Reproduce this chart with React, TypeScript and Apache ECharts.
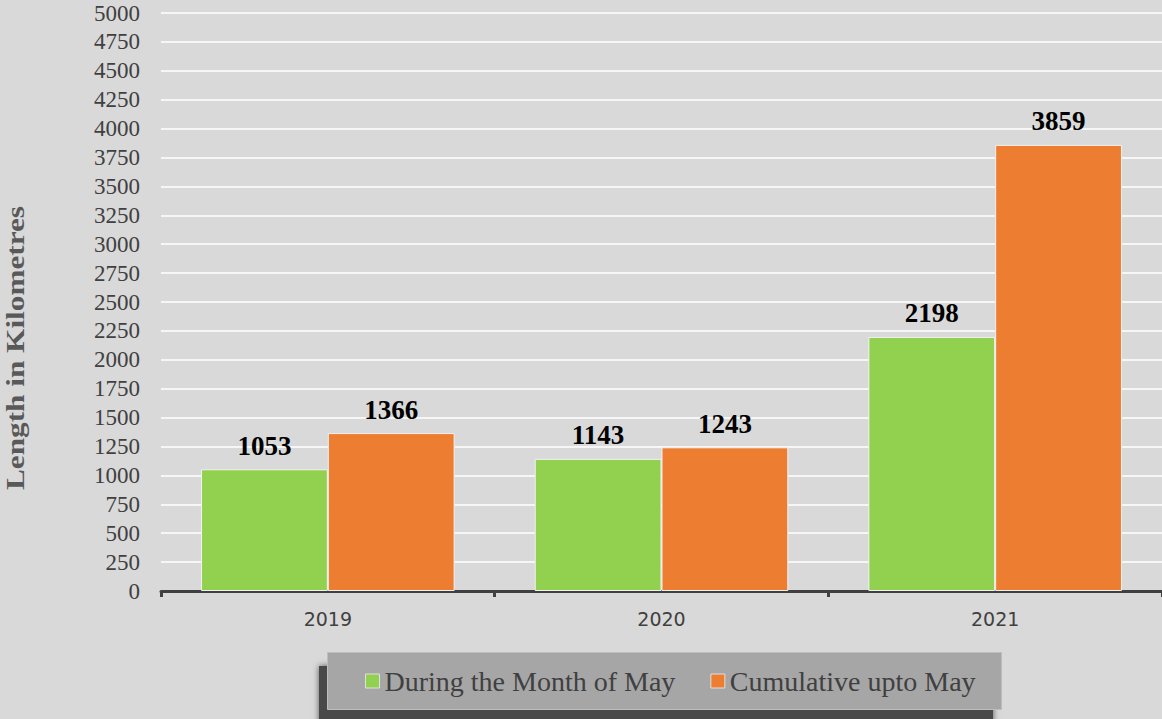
import React, { useEffect, useRef } from "react";
import * as echarts from "echarts";

const categories = ["2019", "2020", "2021"];
const duringMay = [1053, 1143, 2198];
const cumulativeMay = [1366, 1243, 3859];
const seriesNames = ["During the Month of May", "Cumulative upto May"];

export default function App() {
  const ref = useRef<HTMLDivElement>(null);
  useEffect(() => {
    if (!ref.current) return;
    const chart = echarts.init(ref.current, null, { renderer: "svg" });
    const labelStyle = {
      show: true,
      position: "top",
      distance: 10,
      fontFamily: "'Liberation Serif', serif",
      fontWeight: "bold",
      fontSize: 27,
      color: "#000",
    };
    chart.setOption({
      animation: false,
      backgroundColor: "#d9d9d9",
      grid: { left: 161, right: 0, top: 13, bottom: 128, containLabel: false },
      graphic: [
        {
          type: "rect",
          left: 319,
          top: 666,
          shape: { width: 674, height: 60 },
          style: { fill: "#4a4a4a", shadowBlur: 6, shadowColor: "rgba(0,0,0,0.6)" },
          z: 1,
        },
        {
          type: "rect",
          left: 327,
          top: 652,
          shape: { width: 674, height: 57 },
          style: { fill: "#a6a6a6", stroke: "#bdbdbd", lineWidth: 1 },
          z: 2,
        },
        {
          type: "text",
          x: 16,
          y: 348,
          rotation: Math.PI / 2,
          scaleX: 1.25,
          style: {
            text: "Length in Kilometres",
            fontFamily: "'Liberation Serif', serif",
            fontWeight: "bold",
            fontSize: 25,
            fill: "#595959",
            align: "center",
            verticalAlign: "middle",
          },
          z: 3,
        },
      ],
      legend: {
        data: seriesNames,
        left: 360,
        top: 662,
        itemWidth: 14,
        itemHeight: 14,
        itemGap: 35,
        icon: "rect",
        z: 10,
        textStyle: {
          fontFamily: "'Liberation Serif', serif",
          fontSize: 28,
          color: "#404040",
        },
        itemStyle: { borderColor: "#e0e0e0", borderWidth: 1 },
      },
      xAxis: {
        type: "category",
        data: categories,
        axisLine: { lineStyle: { color: "#404040", width: 3 } },
        axisTick: { show: true, length: 6, lineStyle: { color: "#404040", width: 3 } },
        axisLabel: {
          fontFamily: "DejaVu Sans",
          fontSize: 19,
          color: "#404040",
          margin: 18,
        },
      },
      yAxis: {
        type: "value",
        min: 0,
        max: 5000,
        interval: 250,
        axisLine: { show: false },
        axisTick: { show: false },
        axisLabel: {
          fontFamily: "'Liberation Serif', serif",
          fontSize: 23,
          color: "#404040",
          margin: 21,
          formatter: (v: number) => String(v),
        },
        splitLine: { lineStyle: { color: "#ffffff", width: 1.5 } },
      },
      series: [
        {
          name: seriesNames[0],
          type: "bar",
          data: duringMay,
          barGap: "0%",
          barCategoryGap: "24%",
          itemStyle: { color: "#92d050", borderColor: "#f2f2f2", borderWidth: 1 },
          label: labelStyle,
        },
        {
          name: seriesNames[1],
          type: "bar",
          data: cumulativeMay,
          itemStyle: { color: "#ed7d31", borderColor: "#f2f2f2", borderWidth: 1 },
          label: labelStyle,
        },
      ],
    });
    return () => chart.dispose();
  }, []);
  return <div ref={ref} style={{ width: 1162, height: 719, position: "absolute", left: 0, top: 0 }} />;
}
